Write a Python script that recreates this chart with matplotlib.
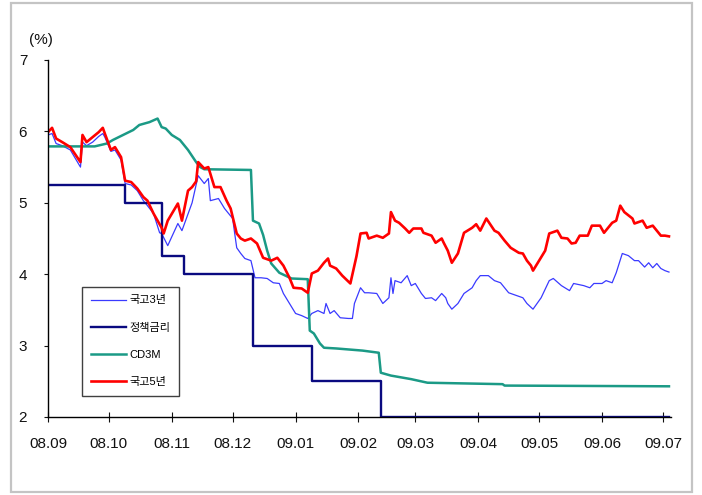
import matplotlib
matplotlib.use("Agg")
import matplotlib.pyplot as plt
import matplotlib.dates as mdates
from matplotlib.patches import Rectangle
import pandas as pd

# 국고3년
kt3_dates = ["2008-09-01", "2008-09-03", "2008-09-05", "2008-09-08", "2008-09-12", "2008-09-17",
             "2008-09-18", "2008-09-20", "2008-09-23", "2008-09-26", "2008-09-28", "2008-09-29",
             "2008-10-02", "2008-10-04", "2008-10-07", "2008-10-09", "2008-10-12", "2008-10-15",
             "2008-10-18", "2008-10-20", "2008-10-23", "2008-10-26", "2008-10-27", "2008-10-30",
             "2008-11-04", "2008-11-06", "2008-11-11", "2008-11-14", "2008-11-17", "2008-11-19",
             "2008-11-20", "2008-11-24", "2008-11-27", "2008-12-01", "2008-12-02", "2008-12-03",
             "2008-12-05", "2008-12-07", "2008-12-10", "2008-12-12", "2008-12-15", "2008-12-18",
             "2008-12-21", "2008-12-24", "2008-12-26", "2008-12-29", "2009-01-01", "2009-01-04",
             "2009-01-07", "2009-01-09", "2009-01-12", "2009-01-15", "2009-01-16", "2009-01-18",
             "2009-01-20", "2009-01-23", "2009-01-27", "2009-01-29", "2009-01-30", "2009-02-02",
             "2009-02-04", "2009-02-06", "2009-02-10", "2009-02-13", "2009-02-16", "2009-02-17",
             "2009-02-18", "2009-02-19", "2009-02-22", "2009-02-25", "2009-02-27", "2009-03-01",
             "2009-03-04", "2009-03-06", "2009-03-09", "2009-03-11", "2009-03-14", "2009-03-16",
             "2009-03-17", "2009-03-19", "2009-03-22", "2009-03-25", "2009-03-29", "2009-03-31",
             "2009-04-02", "2009-04-06", "2009-04-09", "2009-04-12", "2009-04-16", "2009-04-20",
             "2009-04-23", "2009-04-25", "2009-04-28", "2009-05-02", "2009-05-06", "2009-05-08",
             "2009-05-12", "2009-05-16", "2009-05-18", "2009-05-23", "2009-05-26", "2009-05-28",
             "2009-06-01", "2009-06-03", "2009-06-06", "2009-06-08", "2009-06-11", "2009-06-14",
             "2009-06-17", "2009-06-19", "2009-06-22", "2009-06-24", "2009-06-26", "2009-06-28",
             "2009-06-30", "2009-07-02", "2009-07-04"]
kt3_values = [5.95, 5.97, 5.83, 5.80, 5.74, 5.50,
              5.85, 5.80, 5.85, 5.93, 5.97, 5.92,
              5.72, 5.74, 5.60, 5.27, 5.25, 5.17,
              5.03, 4.96, 4.85, 4.58, 4.57, 4.40,
              4.71, 4.61, 5.00, 5.38, 5.27, 5.34,
              5.03, 5.06, 4.92, 4.78, 4.57, 4.37,
              4.29, 4.22, 4.19, 3.95, 3.95, 3.94,
              3.88, 3.87, 3.73, 3.59, 3.45, 3.42,
              3.38, 3.45, 3.49, 3.45, 3.59, 3.45,
              3.49, 3.39, 3.38, 3.38, 3.59, 3.81,
              3.74, 3.74, 3.73, 3.59, 3.67, 3.95,
              3.73, 3.91, 3.88, 3.98, 3.84, 3.87,
              3.73, 3.66, 3.67, 3.63, 3.73, 3.67,
              3.59, 3.51, 3.59, 3.73, 3.81, 3.91,
              3.98, 3.98, 3.91, 3.88, 3.74, 3.70,
              3.67, 3.59, 3.51, 3.67, 3.91, 3.94,
              3.84, 3.77, 3.87, 3.84, 3.81, 3.87,
              3.87, 3.91, 3.88, 4.02, 4.29, 4.26,
              4.19, 4.19, 4.10, 4.16, 4.09, 4.15,
              4.08, 4.05, 4.03]

# 정책금리
policy_dates = ["2008-09-01", "2008-10-09", "2008-10-27", "2008-11-07", "2008-12-11",
                "2009-01-09", "2009-02-12", "2009-07-04"]
policy_values = [5.25, 5.00, 4.25, 4.00, 3.00, 2.50, 2.00, 2.00]

# CD3M
cd_dates = ["2008-09-01", "2008-09-24", "2008-09-30", "2008-10-03", "2008-10-08", "2008-10-13",
            "2008-10-16", "2008-10-21", "2008-10-25", "2008-10-27", "2008-10-29", "2008-11-01",
            "2008-11-05", "2008-11-09", "2008-11-13", "2008-11-15", "2008-11-17", "2008-12-10",
            "2008-12-11", "2008-12-14", "2008-12-16", "2008-12-18", "2008-12-20", "2008-12-24",
            "2008-12-30", "2009-01-07", "2009-01-08", "2009-01-10", "2009-01-13", "2009-01-15",
            "2009-01-21", "2009-02-03", "2009-02-11", "2009-02-12", "2009-02-17", "2009-02-27",
            "2009-03-07", "2009-04-13", "2009-04-14", "2009-07-04"]
cd_values = [5.79, 5.79, 5.83, 5.88, 5.95, 6.02,
             6.09, 6.13, 6.18, 6.06, 6.04, 5.95,
             5.88, 5.74, 5.57, 5.50, 5.47, 5.46,
             4.75, 4.71, 4.55, 4.33, 4.15, 4.02,
             3.94, 3.93, 3.21, 3.17, 3.03, 2.97,
             2.96, 2.93, 2.90, 2.62, 2.58, 2.53,
             2.48, 2.46, 2.44, 2.43]

# 국고5년
kt5_dates = ["2008-09-01", "2008-09-03", "2008-09-05", "2008-09-08", "2008-09-12", "2008-09-17",
             "2008-09-18", "2008-09-20", "2008-09-23", "2008-09-26", "2008-09-28", "2008-09-29",
             "2008-10-02", "2008-10-04", "2008-10-07", "2008-10-09", "2008-10-12", "2008-10-15",
             "2008-10-18", "2008-10-20", "2008-10-23", "2008-10-27", "2008-10-28", "2008-10-30",
             "2008-11-04", "2008-11-06", "2008-11-09", "2008-11-11", "2008-11-13", "2008-11-14",
             "2008-11-17", "2008-11-19", "2008-11-22", "2008-11-25", "2008-11-28", "2008-11-30",
             "2008-12-03", "2008-12-05", "2008-12-07", "2008-12-10", "2008-12-13", "2008-12-16",
             "2008-12-20", "2008-12-23", "2008-12-26", "2008-12-29", "2008-12-31", "2009-01-04",
             "2009-01-07", "2009-01-09", "2009-01-12", "2009-01-15", "2009-01-17", "2009-01-18",
             "2009-01-21", "2009-01-24", "2009-01-28", "2009-01-31", "2009-02-02", "2009-02-05",
             "2009-02-06", "2009-02-10", "2009-02-13", "2009-02-16", "2009-02-17", "2009-02-19",
             "2009-02-21", "2009-02-24", "2009-02-26", "2009-02-28", "2009-03-04", "2009-03-05",
             "2009-03-09", "2009-03-11", "2009-03-14", "2009-03-15", "2009-03-17", "2009-03-19",
             "2009-03-22", "2009-03-25", "2009-03-29", "2009-03-31", "2009-04-02", "2009-04-05",
             "2009-04-09", "2009-04-11", "2009-04-14", "2009-04-17", "2009-04-21", "2009-04-23",
             "2009-04-25", "2009-04-27", "2009-04-28", "2009-05-01", "2009-05-04", "2009-05-06",
             "2009-05-10", "2009-05-12", "2009-05-15", "2009-05-17", "2009-05-19", "2009-05-21",
             "2009-05-25", "2009-05-27", "2009-05-31", "2009-06-02", "2009-06-06", "2009-06-08",
             "2009-06-10", "2009-06-12", "2009-06-16", "2009-06-17", "2009-06-21", "2009-06-23",
             "2009-06-26", "2009-06-28", "2009-06-30", "2009-07-02", "2009-07-04"]
kt5_values = [5.99, 6.05, 5.90, 5.85, 5.78, 5.57,
              5.95, 5.85, 5.92, 5.99, 6.05, 5.97,
              5.74, 5.78, 5.64, 5.31, 5.29, 5.20,
              5.08, 5.03, 4.85, 4.65, 4.57, 4.75,
              4.99, 4.75, 5.17, 5.22, 5.30, 5.57,
              5.48, 5.50, 5.22, 5.22, 5.03, 4.92,
              4.57, 4.50, 4.47, 4.50, 4.43, 4.23,
              4.19, 4.23, 4.12, 3.95, 3.81, 3.80,
              3.74, 4.01, 4.05, 4.16, 4.22, 4.12,
              4.08, 3.98, 3.87, 4.25, 4.57, 4.58,
              4.50, 4.54, 4.51, 4.57, 4.87, 4.75,
              4.72, 4.64, 4.58, 4.64, 4.64, 4.58,
              4.54, 4.44, 4.50, 4.44, 4.33, 4.16,
              4.29, 4.58, 4.65, 4.70, 4.61, 4.78,
              4.61, 4.58, 4.47, 4.37, 4.30, 4.29,
              4.19, 4.12, 4.05, 4.19, 4.33, 4.57,
              4.61, 4.51, 4.50, 4.43, 4.44, 4.54,
              4.54, 4.68, 4.68, 4.58, 4.72, 4.75,
              4.96, 4.87, 4.78, 4.71, 4.75, 4.65,
              4.68, 4.61, 4.54, 4.54, 4.53]

font = ["Liberation Sans", "Noto Sans CJK KR"]
plt.rcParams["font.family"] = font

fig = plt.figure(figsize=(7.02, 4.95), dpi=100)
ax = fig.add_axes([48 / 702, 78 / 495, 623 / 702, 357 / 495])

ax.plot(pd.to_datetime(kt3_dates), kt3_values, color="#3a3aff", lw=0.9, label="국고3년")
ax.step(pd.to_datetime(policy_dates), policy_values, where="post", color="#0a0a80", lw=1.7,
        label="정책금리")
ax.plot(pd.to_datetime(cd_dates), cd_values, color="#1b9a86", lw=1.8, label="CD3M")
ax.plot(pd.to_datetime(kt5_dates), kt5_values, color="#ff0000", lw=1.9, label="국고5년")

ax.set_xlim(pd.Timestamp("2008-09-01"), pd.Timestamp("2009-07-05"))
ax.set_ylim(2, 7)
ax.set_yticks([2, 3, 4, 5, 6, 7])
ax.xaxis.set_major_locator(mdates.MonthLocator())
ax.xaxis.set_major_formatter(mdates.DateFormatter("%y.%m"))

for side in ("top", "right"):
    ax.spines[side].set_visible(False)
for side in ("left", "bottom"):
    ax.spines[side].set_linewidth(1.0)
    ax.spines[side].set_color("black")

ax.tick_params(axis="y", direction="out", length=3, pad=12, labelsize=11, colors="#111111")
ax.tick_params(axis="x", direction="inout", length=7, pad=11, labelsize=11, colors="#111111")

fig.text(41 / 702, 1 - 40 / 495, "(%)", ha="center", va="center", fontsize=11, color="#111111")

leg = ax.legend(loc="lower left", bbox_to_anchor=(0.055, 0.06), borderaxespad=0,
                fontsize=8, handlelength=3.2, handletextpad=0.3, labelspacing=1.55,
                borderpad=0.75, fancybox=False, framealpha=1)
leg.get_frame().set_edgecolor("#404040")
leg.get_frame().set_linewidth(1.0)

fig.patches.append(Rectangle((11 / 702, 3 / 495), 681 / 702, 489 / 495, transform=fig.transFigure,
                             fill=False, edgecolor="#c4c4c4", lw=1.6))

fig.savefig("out.png", dpi=100)
